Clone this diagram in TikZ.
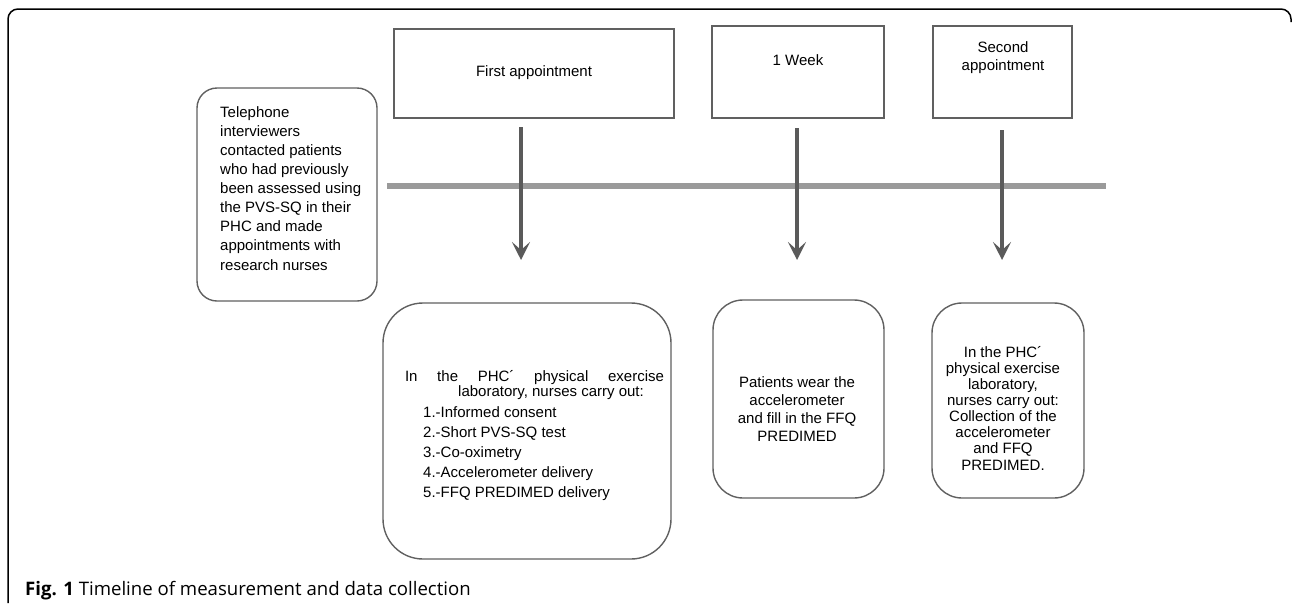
\documentclass[tikz,border=0pt]{standalone}
\usepackage{fontspec}
\setmainfont{Liberation Sans}
\newfontfamily\capfont{Open Sans}
\usetikzlibrary{arrows.meta}
\definecolor{boxgray}{HTML}{606060}
\definecolor{linegray}{HTML}{9A9A9A}
\definecolor{arrgray}{HTML}{5A5A5A}
\tikzset{
  hdrbox/.style={draw=boxgray, line width=1.4pt, inner sep=0pt},
  roundbox/.style={draw=boxgray, line width=1.4pt, inner sep=0pt},
  txt/.style={inner sep=0pt, font=\fontsize{15}{19.1}\selectfont},
  arr/.style={draw=arrgray, line width=4.2pt, -{Stealth[length=18pt,width=18pt,inset=8pt]}},
  timeline/.style={draw=linegray, line width=6pt},
  frame/.style={draw=black, line width=1.5pt, rounded corners=10pt}
}
\begin{document}
\begin{tikzpicture}[x=1pt,y=-1pt]
\useasboundingbox (0,0) rectangle (1292,603);
% outer frame
\draw[frame] (8,603) -- (8,9) -- (1291,9) -- (1291,22);
% header boxes
\node[hdrbox, minimum width=280pt, minimum height=89pt] (hdr1) at (534,73.5) {};
\node[hdrbox, minimum width=172pt, minimum height=92pt] (hdr2) at (798,72) {};
\node[hdrbox, minimum width=139pt, minimum height=92pt] (hdr3) at (1002.5,72) {};
\node[txt] (hdr1t) at (534,73) {First appointment};
\node[txt] (hdr2t) at (798,60) {1 Week};
\node[txt, align=center, font=\fontsize{15}{18}\selectfont] (hdr3t) at (1003,58) {Second\\appointment};
% left box
\node[roundbox, rounded corners=20pt, minimum width=180pt, minimum height=213pt] (tel) at (287,194.5) {};
\node[txt, align=left, anchor=north west] (telt) at (220,106.2) {Telephone\\interviewers\\contacted patients\\who had previously\\been assessed using\\the PVS-SQ in their\\PHC and made\\appointments with\\research nurses};
% timeline
\coordinate (tlL) at (387,186);
\coordinate (tlR) at (1106,186);
\draw[timeline] (tlL) -- (tlR);
% arrows
\coordinate (a1s) at (521,127);
\coordinate (a1e) at (521,260);
\coordinate (a2s) at (797,128);
\coordinate (a2e) at (797,260);
\coordinate (a3s) at (1002,130);
\coordinate (a3e) at (1002,260);
\draw[arr] (a1s) -- (a1e);
\draw[arr] (a2s) -- (a2e);
\draw[arr] (a3s) -- (a3e);
% bottom boxes
\node[roundbox, rounded corners=40pt, minimum width=288pt, minimum height=256pt] (box1) at (527,431) {};
\node[txt, anchor=base] (b1l1) at (534.5,381) {\makebox[259pt][s]{In the PHC\textasciiacute\ physical exercise}};
\node[txt, anchor=base west] (b1l2) at (458,396) {laboratory, nurses carry out:};
\node[txt, align=left, anchor=north west, font=\fontsize{15}{20}\selectfont] (b1list) at (423,406.1) {1.-Informed consent\\2.-Short PVS-SQ test\\3.-Co-oximetry\\4.-Accelerometer delivery\\5.-FFQ PREDIMED delivery};
\node[roundbox, rounded corners=30pt, minimum width=171pt, minimum height=198pt] (box2) at (798.5,399) {};
\node[txt, align=center, font=\fontsize{15}{18}\selectfont] (box2t) at (797,409.5) {Patients wear the\\accelerometer\\and fill in the FFQ\\PREDIMED};
\node[roundbox, rounded corners=30pt, minimum width=152pt, minimum height=195pt] (box3) at (1008,400.5) {};
\node[txt, align=center, font=\fontsize{15}{16.15}\selectfont] (box3t) at (1003,408) {In the PHC\textasciiacute\\physical exercise\\laboratory,\\nurses carry out:\\Collection of the\\accelerometer\\and FFQ\\PREDIMED.};
% caption
\node[inner sep=0pt, anchor=base west, font=\capfont\fontsize{18.6}{22}\selectfont] (cap) at (25,595) {{\bfseries Fig. 1} Timeline of measurement and data collection};
\end{tikzpicture}
\end{document}
